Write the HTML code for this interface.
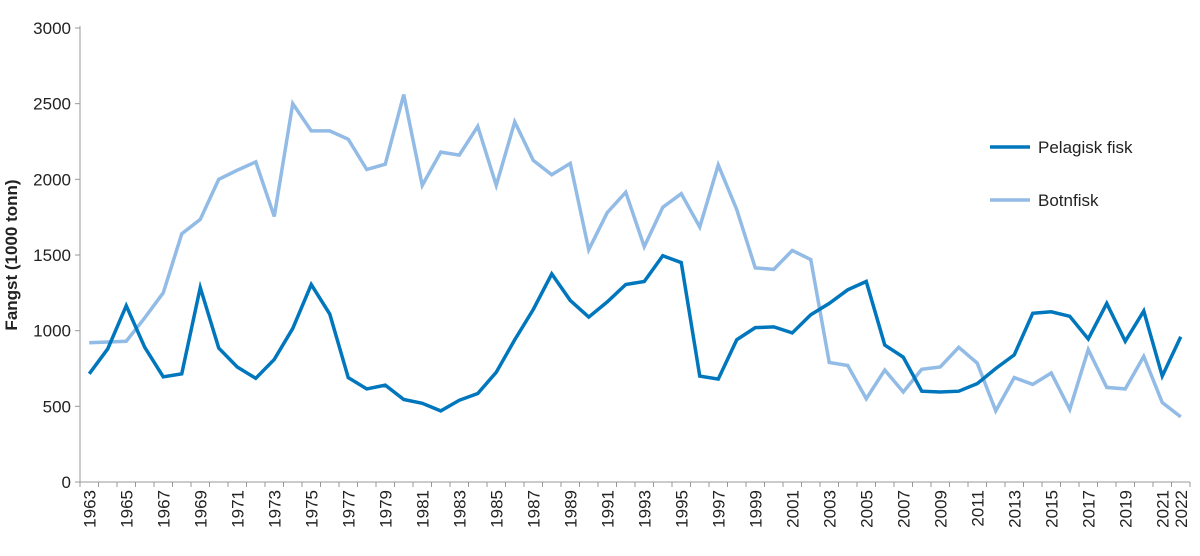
<!DOCTYPE html>
<html><head><meta charset="utf-8"><style>
html,body{margin:0;padding:0;background:#fff;width:1200px;height:556px;overflow:hidden}
svg{font-family:"Liberation Sans",sans-serif}
</style></head><body>
<svg id="c" width="1200" height="556"></svg>
<script>
const years=[];for(let y=1963;y<=2022;y++)years.push(y);
const pelagisk=[715,880,1165,890,695,715,1285,885,760,685,810,1015,1305,1110,690,615,640,545,520,470,540,585,725,940,1140,1375,1200,1090,1190,1305,1325,1495,1450,700,680,940,1020,1025,985,1105,1180,1270,1325,905,825,600,595,600,650,750,840,1115,1125,1095,945,1180,930,1130,700,960];
const botnfisk=[920,925,930,1085,1250,1640,1735,2000,2060,2115,1755,2500,2320,2320,2265,2065,2100,2560,1960,2180,2160,2350,1960,2380,2125,2030,2105,1535,1780,1915,1555,1815,1905,1685,2095,1800,1415,1405,1530,1470,790,770,550,740,595,745,760,890,785,470,690,645,720,480,875,625,615,830,525,430];
const yTicks=[0,500,1000,1500,2000,2500,3000];
const NS='http://www.w3.org/2000/svg',svg=document.getElementById('c');
const x0=80,x1=1190,yb=482,yt=28;
const step=(x1-x0)/years.length;
const X=i=>x0+step*(i+0.5);
const Y=v=>yb-(v/3000)*(yb-yt);
function el(t,a,p){const e=document.createElementNS(NS,t);for(const k in a)e.setAttribute(k,a[k]);(p||svg).appendChild(e);return e;}
// axes
const ya=el('line',{x1:x0,y1:yt-2,x2:x0,y2:yb,stroke:'#999','stroke-width':1});


const xa=el('line',{x1:x0,y1:yb,x2:x1,y2:yb,stroke:'#999','stroke-width':1});


yTicks.forEach(v=>{
 el('line',{x1:x0-5,y1:Y(v),x2:x0,y2:Y(v),stroke:'#999'});
 const t=el('text',{x:x0-9,y:Y(v)+6,'text-anchor':'end','font-size':17,fill:'#222'});
 t.textContent=v;
 
 
});
for(let i=0;i<=years.length;i++){const xx=x0+step*i;el('line',{x1:xx,y1:yb,x2:xx,y2:yb+5,stroke:'#999'});}
years.forEach((yr,i)=>{
 if(yr%2===1||yr===2022){
  const t=el('text',{x:0,y:0,'text-anchor':'end','font-size':17,fill:'#222',transform:`translate(${X(i)+6},${yb+8}) rotate(-90)`});
  t.textContent=yr;
  
  
 }
});
const yt2=el('text',{x:0,y:0,'text-anchor':'middle','font-size':17,'font-weight':'bold',fill:'#222',transform:'translate(17,255) rotate(-90)'});
yt2.textContent='Fangst (1000 tonn)';


function line(data,color,name){
 const p=el('polyline',{points:data.map((v,i)=>X(i)+','+Y(v)).join(' '),fill:'none',stroke:color,'stroke-width':3.5,'stroke-linejoin':'miter'});
 
 
}
line(botnfisk,'#92bbe6','botnfisk-line');
line(pelagisk,'#0077bd','pelagisk-line');
function leg(y,color,label,name){
 const g=el('g',{});
 
 
 el('line',{x1:990,y1:y,x2:1030,y2:y,stroke:color,'stroke-width':3.5},g);
 const t=el('text',{x:1038,y:y+6,'font-size':17,fill:'#222'},g);t.textContent=label;
}
leg(147,'#0077bd','Pelagisk fisk','legend-pelagisk');
leg(200,'#92bbe6','Botnfisk','legend-botnfisk');
</script>
</body></html>
